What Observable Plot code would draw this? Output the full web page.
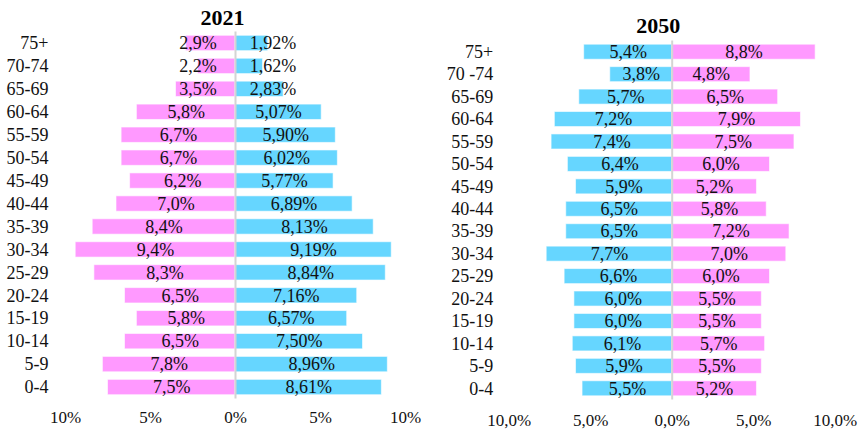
<!DOCTYPE html>
<html>
<head>
<meta charset="utf-8">
<script src="https://cdn.jsdelivr.net/npm/d3@7"></script>
<script src="https://cdn.jsdelivr.net/npm/@observablehq/plot@0.6"></script>
<style>
  html, body { margin: 0; padding: 0; background: #fff; }
  #wrap { display: flex; width: 862px; height: 429px; }
  svg { font-family: "Liberation Serif", "Times New Roman", serif; }
</style>
</head>
<body>
<div id="wrap"></div>
<script>
// ---- Data ----
const ageGroups2021 = ["75+","70-74","65-69","60-64","55-59","50-54","45-49","40-44","35-39","30-34","25-29","20-24","15-19","10-14","5-9","0-4"];
const pink2021 = [2.9,2.2,3.5,5.8,6.7,6.7,6.2,7.0,8.4,9.4,8.3,6.5,5.8,6.5,7.8,7.5];
const blue2021 = [1.92,1.62,2.83,5.07,5.90,6.02,5.77,6.89,8.13,9.19,8.84,7.16,6.57,7.50,8.96,8.61];

const ageGroups2050 = ["75+","70 -74","65-69","60-64","55-59","50-54","45-49","40-44","35-39","30-34","25-29","20-24","15-19","10-14","5-9","0-4"];
const blue2050 = [5.4,3.8,5.7,7.2,7.4,6.4,5.9,6.5,6.5,7.7,6.6,6.0,6.0,6.1,5.9,5.5];
const pink2050 = [8.8,4.8,6.5,7.9,7.5,6.0,5.2,5.8,7.2,7.0,6.0,5.5,5.5,5.7,5.5,5.2];

const ticks = [-10,-5,0,5,10];
const tickLabels2021 = ["10%","5%","0%","5%","10%"];
const tickLabels2050 = ["10,0%","5,0%","0,0%","5,0%","10,0%"];

const PINK = "#FF99FF";
const BLUE = "#66D6FF";
const fmt = (v, d) => v.toFixed(d).replace(".", ",") + "%";

function pyramid({title, ages, leftVals, rightVals, leftColor, rightColor, leftDec, rightDec,
                  tickLabels, width, mL, mR, mT, mB, yPadLabel, xPadLabel, titleDx, titleDy, minLabel}) {
  const rows = [];
  ages.forEach((a, i) => {
    rows.push({age: a, v: -leftVals[i], color: leftColor, label: fmt(leftVals[i], leftDec)});
    rows.push({age: a, v: rightVals[i], color: rightColor, label: fmt(rightVals[i], rightDec)});
  });
  const lx = d => Math.sign(d.v) * Math.max(Math.abs(d.v) / 2, minLabel);
  return Plot.plot({
    width, height: 429,
    marginLeft: mL, marginRight: mR, marginTop: mT, marginBottom: mB,
    style: {fontFamily: "'Liberation Serif', 'Times New Roman', serif", background: "white"},
    x: {domain: [-10, 10], axis: null, label: null},
    y: {domain: ages, paddingInner: 0.33, paddingOuter: 0.165, round: false, axis: null, label: null},
    marks: [
      Plot.barX(rows, {x: "v", y: "age", fill: "color", stroke: "white", strokeOpacity: 0.6, strokeWidth: 1}),
      Plot.ruleX([0], {stroke: "#D4D4D4", strokeWidth: 2}),
      Plot.text(rows, {x: lx, y: "age", text: "label", fontSize: 18, fill: "#111", textAnchor: "middle"}),
      Plot.axisY({tickSize: 0, tickPadding: yPadLabel, fontSize: 18, fill: "#111", textAnchor: "end", label: null}),
      Plot.axisX({ticks, tickSize: 0, tickPadding: xPadLabel, fontSize: 17, fill: "#111", label: null,
                  tickFormat: (d) => tickLabels[ticks.indexOf(d)]}),
      Plot.text([title], {frameAnchor: "top", dx: titleDx, dy: titleDy, fontSize: 22, fontWeight: "bold",
                          fill: "#000", lineAnchor: "middle"})
    ]
  });
}

const wrap = document.getElementById("wrap");
wrap.appendChild(pyramid({
  title: "2021", ages: ageGroups2021, leftVals: pink2021, rightVals: blue2021,
  leftColor: PINK, rightColor: BLUE, leftDec: 1, rightDec: 2, tickLabels: tickLabels2021,
  width: 430, mL: 65, mR: 25, mT: 31.5, mB: 30.5, yPadLabel: 17, xPadLabel: 12,
  titleDx: -13, titleDy: -14.5, minLabel: 2.2
}));
wrap.appendChild(pyramid({
  title: "2050", ages: ageGroups2050, leftVals: blue2050, rightVals: pink2050,
  leftColor: BLUE, rightColor: PINK, leftDec: 1, rightDec: 1, tickLabels: tickLabels2050,
  width: 432, mL: 78.7, mR: 27.3, mT: 40.5, mB: 29.5, yPadLabel: 16, xPadLabel: 14,
  titleDx: -14, titleDy: -15.5, minLabel: 0
}));
</script>
</body>
</html>
